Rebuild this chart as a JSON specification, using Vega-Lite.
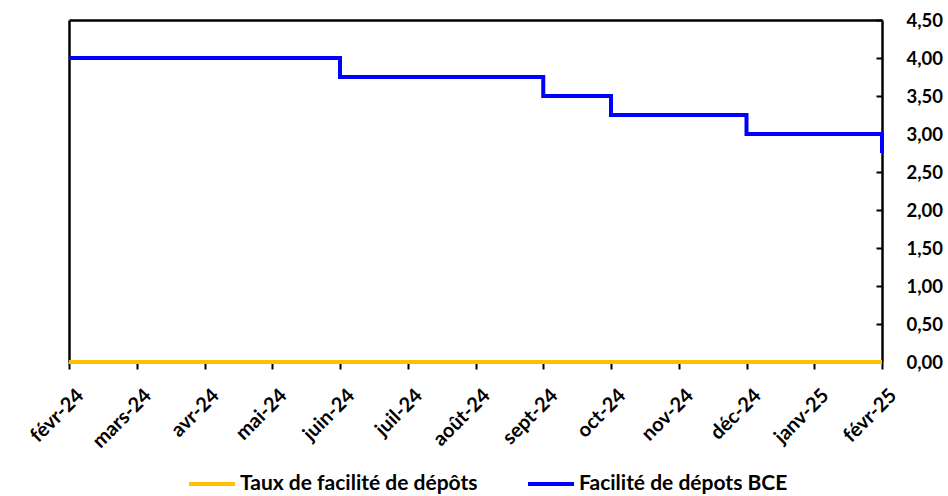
{
  "$schema": "https://vega.github.io/schema/vega-lite/v6.json",
  "width": 813,
  "height": 342,
  "autosize": {"type": "none"},
  "padding": {"left": 69, "top": 20, "right": 66, "bottom": 134},
  "background": "white",
  "config": {
    "font": "Lato",
    "view": {"stroke": null},
    "axis": {"labelFont": "Lato", "labelFontWeight": "bold", "labelColor": "#000000", "domainColor": "#000000", "tickColor": "#000000", "grid": false, "title": null, "domainWidth": 2.5, "tickWidth": 2}
  },
  "data": {
    "values": [
      {"mois": "févr-24", "serie": "Facilité de dépots BCE", "taux": 4.00},
      {"mois": "mars-24", "serie": "Facilité de dépots BCE", "taux": 4.00},
      {"mois": "avr-24", "serie": "Facilité de dépots BCE", "taux": 4.00},
      {"mois": "mai-24", "serie": "Facilité de dépots BCE", "taux": 4.00},
      {"mois": "juin-24", "serie": "Facilité de dépots BCE", "taux": 3.75},
      {"mois": "juil-24", "serie": "Facilité de dépots BCE", "taux": 3.75},
      {"mois": "août-24", "serie": "Facilité de dépots BCE", "taux": 3.75},
      {"mois": "sept-24", "serie": "Facilité de dépots BCE", "taux": 3.50},
      {"mois": "oct-24", "serie": "Facilité de dépots BCE", "taux": 3.25},
      {"mois": "nov-24", "serie": "Facilité de dépots BCE", "taux": 3.25},
      {"mois": "déc-24", "serie": "Facilité de dépots BCE", "taux": 3.00},
      {"mois": "janv-25", "serie": "Facilité de dépots BCE", "taux": 3.00},
      {"mois": "févr-25", "serie": "Facilité de dépots BCE", "taux": 2.75},
      {"mois": "févr-24", "serie": "Taux de facilité de dépôts", "taux": 0},
      {"mois": "mars-24", "serie": "Taux de facilité de dépôts", "taux": 0},
      {"mois": "avr-24", "serie": "Taux de facilité de dépôts", "taux": 0},
      {"mois": "mai-24", "serie": "Taux de facilité de dépôts", "taux": 0},
      {"mois": "juin-24", "serie": "Taux de facilité de dépôts", "taux": 0},
      {"mois": "juil-24", "serie": "Taux de facilité de dépôts", "taux": 0},
      {"mois": "août-24", "serie": "Taux de facilité de dépôts", "taux": 0},
      {"mois": "sept-24", "serie": "Taux de facilité de dépôts", "taux": 0},
      {"mois": "oct-24", "serie": "Taux de facilité de dépôts", "taux": 0},
      {"mois": "nov-24", "serie": "Taux de facilité de dépôts", "taux": 0},
      {"mois": "déc-24", "serie": "Taux de facilité de dépôts", "taux": 0},
      {"mois": "janv-25", "serie": "Taux de facilité de dépôts", "taux": 0},
      {"mois": "févr-25", "serie": "Taux de facilité de dépôts", "taux": 0}
    ]
  },
  "encoding": {
    "color": {
      "field": "serie",
      "type": "nominal",
      "sort": ["Taux de facilité de dépôts", "Facilité de dépots BCE"],
      "scale": {"domain": ["Taux de facilité de dépôts", "Facilité de dépots BCE"], "range": ["#FFC000", "#0000FF"]},
      "legend": {
        "title": null,
        "orient": "none",
        "direction": "horizontal",
        "legendX": 118,
        "legendY": 439,
        "symbolType": "stroke",
        "symbolSize": 2116,
        "symbolStrokeWidth": 4,
        "labelFontSize": 21,
        "labelFont": "Lato",
        "labelFontWeight": "bold",
        "labelColor": "#000000",
        "labelOffset": 3,
        "columnPadding": 42,
        "labelLimit": 400
      }
    }
  },
  "layer": [
    {
      "transform": [{"filter": "datum.serie === 'Facilité de dépots BCE'"}],
      "mark": {"type": "line", "interpolate": "step-after", "strokeWidth": 4},
      "encoding": {
        "x": {
          "field": "mois",
          "type": "ordinal",
          "sort": null,
          "scale": {"type": "point", "padding": 0},
          "axis": {
            "orient": "bottom",
            "labelAngle": -45,
            "labelAlign": "right",
            "labelBaseline": "top",
            "labelFontSize": 20,
            "labelPadding": 16,
            "labelOffset": 4,
            "tickSize": 7
          }
        },
        "y": {
          "field": "taux",
          "type": "quantitative",
          "scale": {"domain": [0, 4.5], "nice": false, "zero": true},
          "axis": {
            "orient": "right",
            "values": [0, 0.5, 1, 1.5, 2, 2.5, 3, 3.5, 4, 4.5],
            "labelExpr": "replace(format(datum.value, '.2f'), '.', ',')",
            "labelFontSize": 18.5,
            "tickSize": -6,
            "labelPadding": 30,
            "labelAlign": "left"
          }
        }
      }
    },
    {
      "transform": [{"filter": "datum.serie === 'Taux de facilité de dépôts'"}],
      "mark": {"type": "line", "interpolate": "step-after", "strokeWidth": 4},
      "encoding": {
        "x": {
          "field": "mois",
          "type": "ordinal",
          "sort": null,
          "scale": {"type": "point", "padding": 0},
          "axis": {"orient": "top", "labels": false, "ticks": false}
        },
        "y": {
          "field": "taux",
          "type": "quantitative",
          "scale": {"domain": [0, 4.5], "nice": false, "zero": true},
          "axis": {"orient": "left", "labels": false, "ticks": false}
        }
      }
    }
  ],
  "resolve": {"axis": {"x": "independent", "y": "independent"}}
}
